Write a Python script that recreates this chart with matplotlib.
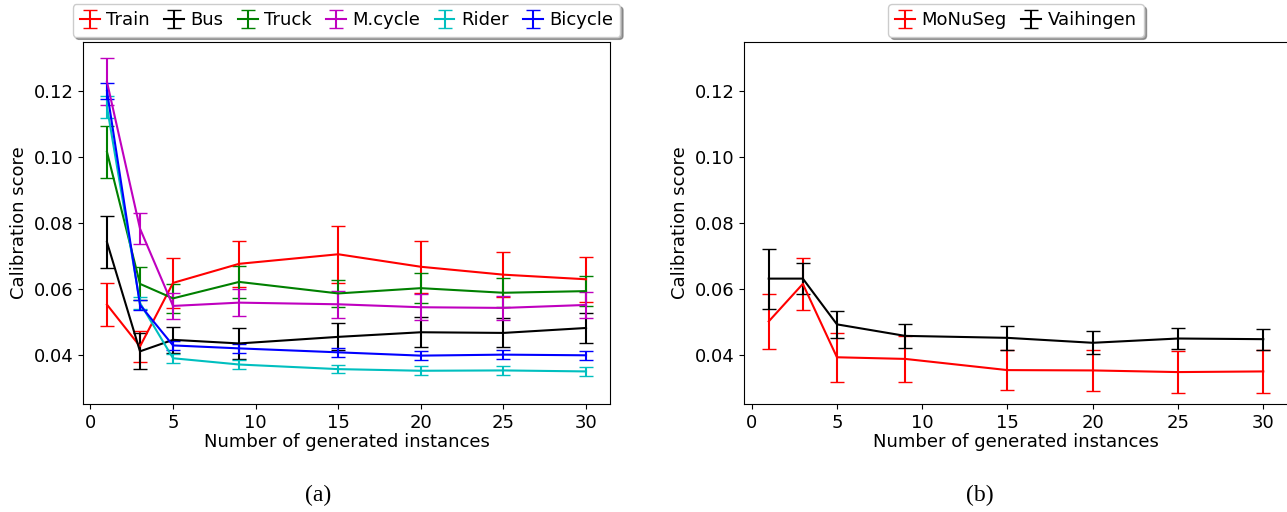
import matplotlib
matplotlib.use("Agg")
import matplotlib.pyplot as plt
import numpy as np

# number of generated instances
x_instances = [1, 3, 5, 9, 15, 20, 25, 30]

# (a) per-class calibration score, mean and error
train_mean = [0.0552, 0.0425, 0.0618, 0.0676, 0.0705, 0.0667, 0.0643, 0.0629]
train_err = [0.0066, 0.0047, 0.0075, 0.0070, 0.0087, 0.0079, 0.0068, 0.0069]
bus_mean = [0.0742, 0.0410, 0.0445, 0.0434, 0.0454, 0.0468, 0.0466, 0.0481]
bus_err = [0.0080, 0.0055, 0.0040, 0.0046, 0.0041, 0.0045, 0.0044, 0.0045]
truck_mean = [0.1016, 0.0615, 0.0571, 0.0621, 0.0586, 0.0602, 0.0588, 0.0593]
truck_err = [0.0078, 0.0050, 0.0044, 0.0048, 0.0041, 0.0045, 0.0044, 0.0045]
mcycle_mean = [0.1229, 0.0783, 0.0548, 0.0558, 0.0553, 0.0544, 0.0542, 0.0551]
mcycle_err = [0.0071, 0.0046, 0.0040, 0.0042, 0.0041, 0.0040, 0.0037, 0.0040]
rider_mean = [0.1153, 0.0557, 0.0389, 0.0370, 0.0356, 0.0351, 0.0352, 0.0349]
rider_err = [0.0034, 0.0018, 0.0013, 0.0014, 0.0013, 0.0014, 0.0013, 0.0014]
bicycle_mean = [0.1201, 0.0551, 0.0428, 0.0419, 0.0407, 0.0397, 0.0400, 0.0398]
bicycle_err = [0.0023, 0.0015, 0.0013, 0.0014, 0.0013, 0.0013, 0.0013, 0.0013]

# (b) dataset calibration score
monuseg_mean = [0.0501, 0.0615, 0.0392, 0.0387, 0.0353, 0.0352, 0.0347, 0.0349]
monuseg_err = [0.0083, 0.0078, 0.0074, 0.0070, 0.0061, 0.0063, 0.0064, 0.0065]
vaihingen_mean = [0.0631, 0.0631, 0.0492, 0.0457, 0.0451, 0.0436, 0.0449, 0.0447]
vaihingen_err = [0.0091, 0.0046, 0.0041, 0.0037, 0.0037, 0.0035, 0.0033, 0.0032]

fig = plt.figure(figsize=(12.87, 5.12), dpi=100)
ax1 = fig.add_axes([83 / 1287, 108 / 512, 527 / 1287, 362 / 512])
ax2 = fig.add_axes([744 / 1287, 108 / 512, 544 / 1287, 362 / 512])

fs = 13
cap = 5

series_a = [
    (train_mean, train_err, 'r', 'Train'),
    (bus_mean, bus_err, 'k', 'Bus'),
    (truck_mean, truck_err, 'g', 'Truck'),
    (mcycle_mean, mcycle_err, 'm', 'M.cycle'),
    (rider_mean, rider_err, 'c', 'Rider'),
    (bicycle_mean, bicycle_err, 'b', 'Bicycle'),
]
for mean, err, col, lab in series_a:
    ax1.errorbar(x_instances, mean, yerr=err, color=col, capsize=cap, label=lab)

ax2.errorbar(x_instances, monuseg_mean, yerr=monuseg_err, color='r', capsize=cap, label='MoNuSeg')
ax2.errorbar(x_instances, vaihingen_mean, yerr=vaihingen_err, color='k', capsize=cap, label='Vaihingen')

for ax in (ax1, ax2):
    ax.set_ylim(0.025, 0.135)
    ax.set_xlim(-0.45, 31.45)
    ax.set_xticks([0, 5, 10, 15, 20, 25, 30])
    ax.set_yticks([0.04, 0.06, 0.08, 0.10, 0.12])
    ax.tick_params(labelsize=fs)
    ax.set_xlabel("Number of generated instances", fontsize=fs, labelpad=1)
    ax.set_ylabel("Calibration score", fontsize=fs)

leg_kw = dict(loc='lower center', bbox_to_anchor=(0.5, 1.0), fontsize=fs,
              shadow=True, columnspacing=0.8, handletextpad=0.35, handlelength=1.1,
              borderaxespad=0.3, borderpad=0.4)
ax1.legend(ncol=6, **leg_kw)
ax2.legend(ncol=2, **leg_kw)

fig.text(318 / 1287, 1 - 495 / 512, "(a)", family='Liberation Serif', fontsize=17,
         ha='center', va='center')
fig.text(980 / 1287, 1 - 495 / 512, "(b)", family='Liberation Serif', fontsize=17,
         ha='center', va='center')

fig.savefig("out.png", dpi=100)
